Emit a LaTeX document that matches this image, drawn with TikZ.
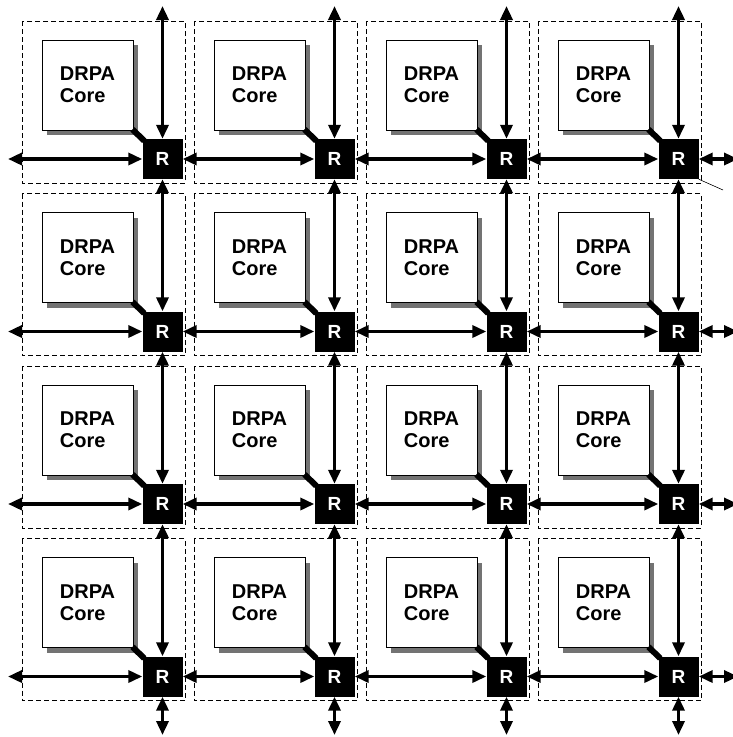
\documentclass[tikz,border=0pt]{standalone}
\usepackage{fontspec}
\setmainfont{Liberation Sans}
\usetikzlibrary{arrows.meta}
\definecolor{shadowc}{gray}{0.45}
\begin{document}
\begin{tikzpicture}[x=1pt,y=-1pt,
  tile/.style={draw, dash pattern=on 5pt off 3pt, line width=0.8pt},
  core/.style={draw, fill=white, line width=0.8pt, minimum width=91pt, minimum height=90pt, inner sep=0pt, align=left, font=\fontsize{20}{22}\selectfont\bfseries},
  router/.style={fill=black, minimum size=40pt, inner sep=0pt, text=white, font=\fontsize{19}{22}\selectfont\bfseries},
  link/.style={line width=3.4pt, {Triangle[length=14pt,width=12pt]}-{Triangle[length=14pt,width=12pt]}},
  stub/.style={line width=6pt}
]
\useasboundingbox (0,0) rectangle (733,737);
\foreach \i in {0,...,3}{
  \foreach \j in {0,...,3}{
    \pgfmathsetmacro\xx{172*\i}
    \pgfmathsetmacro\yy{172.5*\j}
    \begin{scope}[shift={(\xx,\yy)}]
      \draw[tile] (22,21) rectangle (185,183);
      \fill[shadowc] (47,45) rectangle (138,135);
      \node[core] (core\i\j) at (87.5,85) {DRPA\\Core};
      \node[router] (R\i\j) at (162.5,159) {R};
      \draw[stub] ([shift={(-1,-1)}]core\i\j.south east) -- ([shift={(2,2)}]R\i\j.north west);
    \end{scope}
  }
}
% vertical links
\foreach \i in {0,...,3}{
  \pgfmathsetmacro\xx{162.5+172*\i}
  \coordinate (top\i) at (\xx,6);
  \coordinate (bot\i) at (\xx,735);
  \draw[link] (top\i) -- (R\i0.north);
  \foreach \j in {1,2,3}{
    \pgfmathtruncatemacro\jm{\j-1}
    \draw[link] (R\i\jm.south) -- (R\i\j.north);
  }
  \draw[link] (R\i3.south) -- (bot\i);
}
% horizontal links
\foreach \j in {0,...,3}{
  \pgfmathsetmacro\yy{159+172.5*\j}
  \coordinate (left\j) at (8,\yy);
  \coordinate (right\j) at (738,\yy);
  \draw[link] (left\j) -- (R0\j.west);
  \foreach \i in {1,2,3}{
    \pgfmathtruncatemacro\im{\i-1}
    \draw[link] (R\im\j.east) -- (R\i\j.west);
  }
  \draw[link] (R3\j.east) -- (right\j);
}
\coordinate (tick) at (723,190);
\draw[line width=0.6pt] (R30.south east) -- (tick);
\end{tikzpicture}
\end{document}
